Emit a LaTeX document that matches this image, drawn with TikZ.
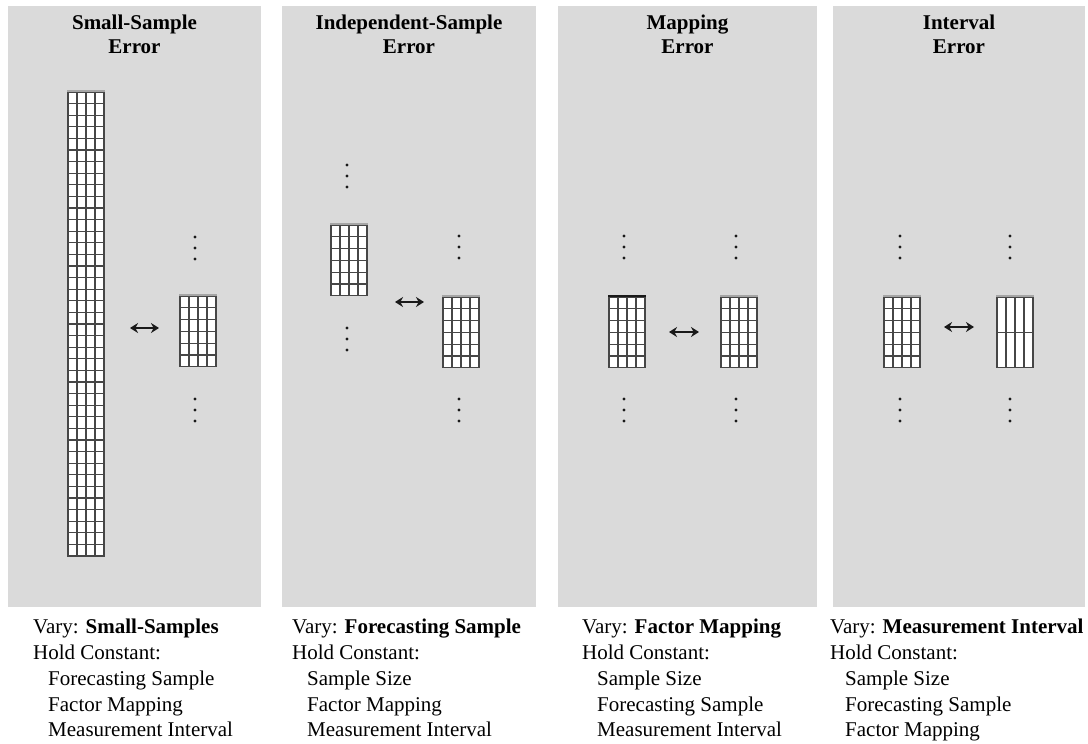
\documentclass[tikz,border=0pt]{standalone}
\usepackage{fontspec}
\setmainfont{Liberation Serif}
\usepackage{xcolor}
\definecolor{panelgray}{RGB}{218,218,218}
\definecolor{gridline}{RGB}{70,70,70}
\definecolor{edgegray}{RGB}{165,165,165}
\definecolor{dotblack}{RGB}{25,25,25}
\usetikzlibrary{arrows.meta, calc}

% grid of cells: name, left, top, columns, rows, row height
\newcommand{\cellgrid}[6]{%
  \node[cellbox, minimum width=#4*9pt, minimum height=#5*#6pt] (#1) at (#2,#3) {};
  \pgfmathtruncatemacro\lastcol{#4-1}
  \pgfmathtruncatemacro\lastrow{#5-1}
  \foreach \c in {1,...,\lastcol}
    \draw[gridrule] ($(#1.north west)+(\c*9,0)$) -- ($(#1.south west)+(\c*9,0)$);
  \foreach \r in {1,...,\lastrow}
    \draw[gridrule] ($(#1.north west)+(0,\r*#6)$) -- ($(#1.north east)+(0,\r*#6)$);
  \draw[topedge] ($(#1.north west)+(-1,-1)$) -- ($(#1.north east)+(1,-1)$);
}
% three stacked dots
\newcommand{\dotsat}[2]{%
  \foreach \k in {-1,0,1} \fill[dotblack] (#1,#2+\k*11) circle (1.7pt);
}

\begin{document}
\begin{tikzpicture}[x=1pt, y=-1pt,
  panelbox/.style={rectangle, fill=panelgray, anchor=north west, inner sep=0,
                outer sep=0, minimum height=601pt},
  cellbox/.style={rectangle, draw=gridline, fill=white, line width=1.3pt,
                anchor=north west, inner sep=0, outer sep=0},
  gridrule/.style={draw=gridline, line width=1.3pt},
  topedge/.style={draw=edgegray, line width=1.6pt},
  paneltitle/.style={anchor=north, align=center, inner sep=0,
                font=\fontsize{21}{24}\selectfont\bfseries},
  captext/.style={anchor=north west, align=left, inner sep=0,
                  font=\fontsize{21}{25.8}\selectfont},
  dblarrow/.style={{Stealth[length=8pt, width=10pt]}-{Stealth[length=8pt, width=10pt]},
                   line width=1.8pt, draw=dotblack}
]
\useasboundingbox (0,0) rectangle (1088,744);

% Panels
\node[panelbox, minimum width=253pt] (p1) at (8,6) {};
\node[panelbox, minimum width=254pt] (p2) at (282,6) {};
\node[panelbox, minimum width=259pt] (p3) at (558,6) {};
\node[panelbox, minimum width=252pt] (p4) at (833,6) {};

% Titles
\node[paneltitle] (t1) at (p1.north |- 0,15) {Small-Sample\\Error};
\node[paneltitle] (t2) at (p2.north |- 0,15) {Independent-Sample\\Error};
\node[paneltitle] (t3) at (p3.north |- 0,15) {Mapping\\Error};
\node[paneltitle] (t4) at (p4.north |- 0,15) {Interval\\Error};

% Small-sample error
\cellgrid{g1a}{68}{92}{4}{40}{11.6}
\cellgrid{g1b}{180}{296}{4}{6}{11.8}
\dotsat{195}{248}
\dotsat{195}{410}
\coordinate (a1l) at (130,328);
\coordinate (a1r) at (159,328);
\draw[dblarrow] (a1l) -- (a1r);

% Independent-sample error
\cellgrid{g2a}{331}{225}{4}{6}{11.8}
\cellgrid{g2b}{443}{297}{4}{6}{11.8}
\dotsat{347}{176}
\dotsat{347}{339}
\dotsat{459}{247}
\dotsat{459}{410}
\coordinate (a2l) at (395,302);
\coordinate (a2r) at (424,302);
\draw[dblarrow] (a2l) -- (a2r);

% Mapping error
\cellgrid{g3a}{609}{297}{4}{6}{11.8}
\cellgrid{g3b}{721}{297}{4}{6}{11.8}
\draw[dotblack, line width=2.2pt] ($(g3a.north west)+(-1,-1)$) -- ($(g3a.north east)+(1,-1)$);
\dotsat{624}{247}
\dotsat{624}{410}
\dotsat{736}{247}
\dotsat{736}{410}
\coordinate (a3l) at (669,332);
\coordinate (a3r) at (699,332);
\draw[dblarrow] (a3l) -- (a3r);

% Interval error
\cellgrid{g4a}{884}{297}{4}{6}{11.8}
\cellgrid{g4b}{997}{297}{4}{2}{35.4}
\dotsat{900}{247}
\dotsat{900}{410}
\dotsat{1010}{247}
\dotsat{1010}{410}
\coordinate (a4l) at (944,327);
\coordinate (a4r) at (974,327);
\draw[dblarrow] (a4l) -- (a4r);

% Captions
\node[captext] (c1) at (33,619) {Vary: \textbf{Small-Samples}\\Hold Constant:\\
  \hspace*{15pt}Forecasting Sample\\\hspace*{15pt}Factor Mapping\\\hspace*{15pt}Measurement Interval};
\node[captext] (c2) at (292,619) {Vary: \textbf{Forecasting Sample}\\Hold Constant:\\
  \hspace*{15pt}Sample Size\\\hspace*{15pt}Factor Mapping\\\hspace*{15pt}Measurement Interval};
\node[captext] (c3) at (582,619) {Vary: \textbf{Factor Mapping}\\Hold Constant:\\
  \hspace*{15pt}Sample Size\\\hspace*{15pt}Forecasting Sample\\\hspace*{15pt}Measurement Interval};
\node[captext] (c4) at (830,619) {Vary: \textbf{Measurement Interval}\\Hold Constant:\\
  \hspace*{15pt}Sample Size\\\hspace*{15pt}Forecasting Sample\\\hspace*{15pt}Factor Mapping};
\end{tikzpicture}
\end{document}
